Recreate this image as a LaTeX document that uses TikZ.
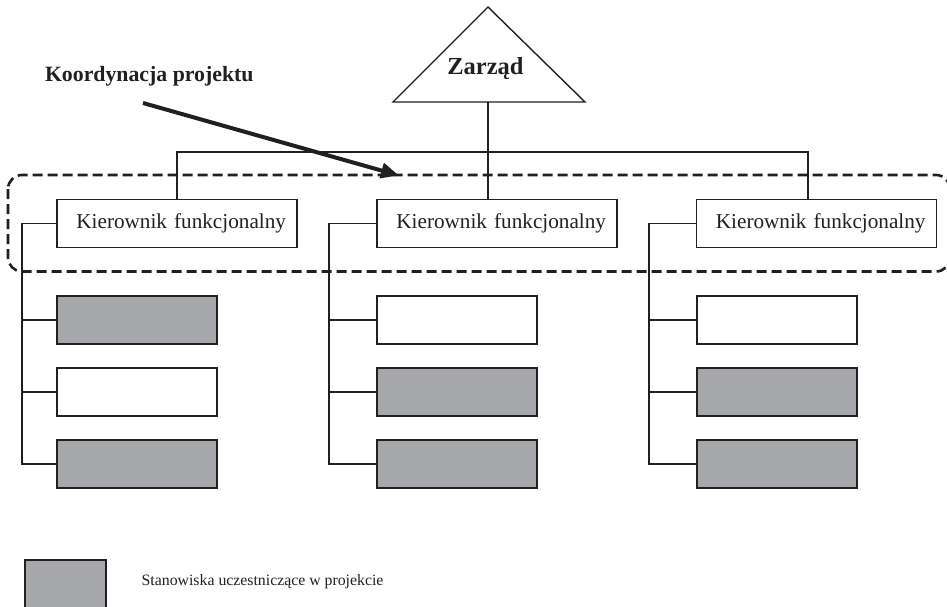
\documentclass[tikz,border=0pt]{standalone}
\usepackage{fontspec}
\setmainfont{Liberation Serif}
\usetikzlibrary{arrows.meta}
\definecolor{ink}{RGB}{35,31,32}
\definecolor{slot}{RGB}{166,167,171}

\begin{document}
\begin{tikzpicture}[x=1pt,y=-1pt,
  every node/.style={inner sep=0pt, outer sep=0pt, text=ink},
  head/.style={draw=ink, line width=1.2pt, fill=white,
    minimum width=240pt, minimum height=48pt,
    text width=218pt, inner xsep=11pt, align=right,
    font=\fontsize{21.2}{25}\selectfont},
  post/.style={draw=ink, line width=1.6pt, minimum width=160pt, minimum height=48pt},
  active/.style={post, fill=slot},
  idle/.style={post, fill=white},
  link/.style={draw=ink, line width=1.2pt},
  group/.style={draw=ink, line width=2.6pt, dash pattern=on 10pt off 5pt,
    rounded corners=14pt},
  pointer/.style={draw=ink, line width=4pt, -{Triangle[length=18pt,width=15pt]}}
]
\useasboundingbox (0,0) rectangle (947,607);
\clip (0,0) rectangle (947,607);

% project coordination band
\draw[group] (8,175) rectangle (950,271.5);

% board
\coordinate (apex) at (488,7);
\coordinate (bl) at (393,102);
\coordinate (br) at (585,102);
\coordinate (zbase) at (488,102);
\draw[ink, line width=1.4pt, line join=miter] (bl) -- (apex) -- (br) -- cycle;
\node[anchor=base, font=\bfseries\fontsize{24.5}{28}\selectfont] (zarzad) at (485.5,75) {Zarząd};

% functional managers
\node[head] (k1) at (177,223.5) {Kierownik funkcjonalny};
\node[head] (k2) at (497,223.5) {Kierownik funkcjonalny};
\node[head] (k3) at (816.5,223.5) {Kierownik funkcjonalny};

% positions
\node[active] (a1) at (137,320) {};
\node[idle]   (a2) at (137,392) {};
\node[active] (a3) at (137,464) {};
\node[idle]   (b1) at (457,320) {};
\node[active] (b2) at (457,392) {};
\node[active] (b3) at (457,464) {};
\node[idle]   (c1) at (777,320) {};
\node[active] (c2) at (777,392) {};
\node[active] (c3) at (777,464) {};

% board to managers
\coordinate (t3) at (808,152);
\draw[link] (zbase) -- (zbase |- k2.north);
\draw[link] (k1.north) |- (t3) -- (t3 |- k3.north);

% manager spines
\coordinate (s1) at (22,223.5);
\coordinate (s2) at (329,223.5);
\coordinate (s3) at (649,223.5);
\draw[link] (k1.west) -- (s1) |- (a3.west);
\draw[link] (s1 |- a1.west) -- (a1.west);
\draw[link] (s1 |- a2.west) -- (a2.west);
\draw[link] (k2.west) -- (s2) |- (b3.west);
\draw[link] (s2 |- b1.west) -- (b1.west);
\draw[link] (s2 |- b2.west) -- (b2.west);
\draw[link] (k3.west) -- (s3) |- (c3.west);
\draw[link] (s3 |- c1.west) -- (c1.west);
\draw[link] (s3 |- c2.west) -- (c2.west);

% coordination label and pointer
\node[anchor=base west, font=\bfseries\fontsize{21.8}{26}\selectfont] (coord) at (45,82) {Koordynacja projektu};
\coordinate (ptail) at (143,103);
\coordinate (ptip) at (399,175.5);
\draw[pointer] (ptail) -- (ptip);

% legend
\node[post, fill=slot, minimum width=81pt, minimum height=54pt, anchor=north west] (key) at (25,560) {};
\node[anchor=base west, font=\fontsize{15.8}{19}\selectfont] (keytext) at (141.7,585) {Stanowiska uczestniczące w projekcie};
\end{tikzpicture}
\end{document}
